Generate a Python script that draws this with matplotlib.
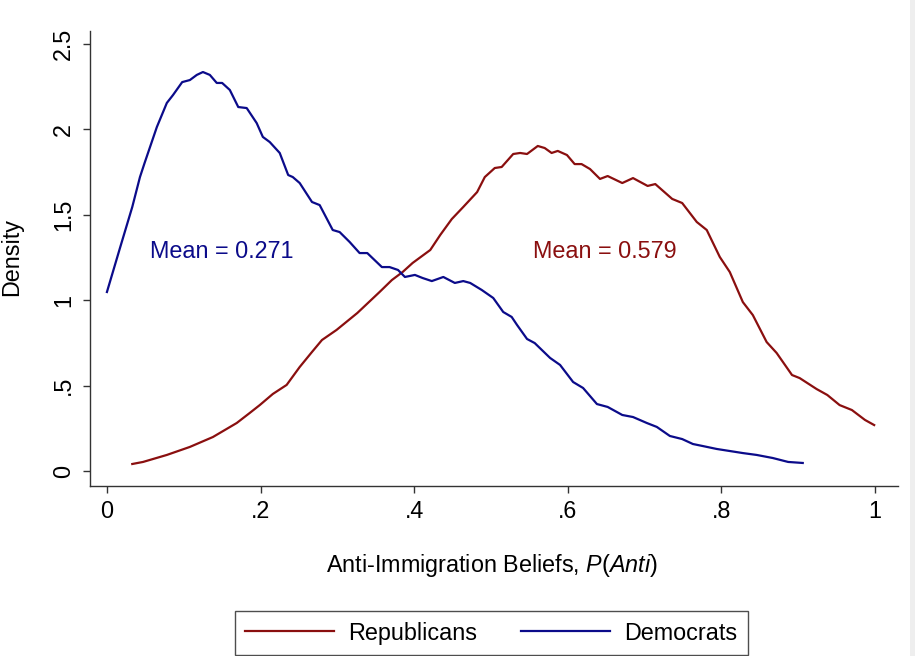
import numpy as np
import matplotlib.pyplot as plt
from matplotlib.patches import Rectangle

plt.rcParams['font.family'] = ['Liberation Sans', 'DejaVu Sans']
plt.rcParams['mathtext.fontset'] = 'custom'
plt.rcParams['mathtext.rm'] = 'Liberation Sans'
plt.rcParams['mathtext.it'] = 'Liberation Sans:italic'

# Democrats density
dem_x = [0.000, 0.017, 0.033, 0.043, 0.049, 0.065, 0.078, 0.086, 0.098, 0.108,
         0.117, 0.125, 0.134, 0.143, 0.150, 0.160, 0.171, 0.182, 0.195, 0.203,
         0.212, 0.225, 0.236, 0.242, 0.251, 0.267, 0.277, 0.294, 0.303, 0.316,
         0.329, 0.339, 0.358, 0.368, 0.379, 0.388, 0.401, 0.411, 0.423, 0.438,
         0.453, 0.464, 0.473, 0.488, 0.503, 0.516, 0.527, 0.534, 0.547, 0.557,
         0.577, 0.590, 0.607, 0.620, 0.638, 0.652, 0.671, 0.685, 0.703, 0.716,
         0.733, 0.749, 0.763, 0.776, 0.794, 0.811, 0.828, 0.846, 0.867, 0.887,
         0.906]
dem_y = [1.048, 1.306, 1.546, 1.721, 1.803, 2.014, 2.155, 2.201, 2.277, 2.289,
         2.319, 2.336, 2.319, 2.272, 2.272, 2.231, 2.131, 2.125, 2.037, 1.956,
         1.926, 1.862, 1.733, 1.721, 1.686, 1.575, 1.557, 1.411, 1.399, 1.341,
         1.276, 1.276, 1.194, 1.194, 1.177, 1.136, 1.148, 1.130, 1.112, 1.136,
         1.101, 1.112, 1.101, 1.060, 1.013, 0.931, 0.902, 0.855, 0.773, 0.749,
         0.662, 0.621, 0.521, 0.486, 0.392, 0.375, 0.328, 0.316, 0.281, 0.258,
         0.205, 0.187, 0.158, 0.146, 0.129, 0.117, 0.105, 0.094, 0.076, 0.053,
         0.047]

# Republicans density
rep_x = [0.033, 0.047, 0.078, 0.108, 0.138, 0.169, 0.186, 0.199, 0.216, 0.234,
         0.251, 0.267, 0.280, 0.299, 0.326, 0.355, 0.371, 0.385, 0.398, 0.421,
         0.434, 0.449, 0.464, 0.482, 0.492, 0.505, 0.514, 0.529, 0.538, 0.547,
         0.561, 0.570, 0.579, 0.587, 0.599, 0.609, 0.618, 0.629, 0.642, 0.652,
         0.671, 0.685, 0.704, 0.714, 0.736, 0.749, 0.768, 0.781, 0.798, 0.811,
         0.828, 0.841, 0.859, 0.872, 0.892, 0.902, 0.924, 0.938, 0.954, 0.970,
         0.987, 0.999]
rep_y = [0.041, 0.053, 0.094, 0.141, 0.199, 0.281, 0.340, 0.386, 0.451, 0.504,
         0.609, 0.697, 0.767, 0.826, 0.925, 1.048, 1.118, 1.165, 1.218, 1.294,
         1.382, 1.475, 1.546, 1.633, 1.721, 1.774, 1.780, 1.856, 1.862, 1.856,
         1.903, 1.891, 1.862, 1.874, 1.850, 1.797, 1.797, 1.768, 1.710, 1.727,
         1.686, 1.715, 1.669, 1.680, 1.593, 1.569, 1.458, 1.411, 1.253, 1.165,
         0.989, 0.913, 0.755, 0.691, 0.562, 0.544, 0.480, 0.445, 0.386, 0.357,
         0.299, 0.269]

xticks = [0, 0.2, 0.4, 0.6, 0.8, 1.0]
xtick_labels = ['0', '.2', '.4', '.6', '.8', '1']
yticks = [0, 0.5, 1.0, 1.5, 2.0, 2.5]
ytick_labels = ['0', '.5', '1', '1.5', '2', '2.5']

navy = '#0b0b8a'
maroon = '#8a0f0f'
fs = 16.8

fig = plt.figure(figsize=(9.15, 6.56), dpi=100)
ax = fig.add_axes([0.0984, 0.2591, 0.8830, 0.6936])

ax.plot(rep_x, rep_y, color=maroon, lw=1.6, label='Republicans', solid_joinstyle='round')
ax.plot(dem_x, dem_y, color=navy, lw=1.6, label='Democrats', solid_joinstyle='round')

ax.text(0.056, 1.288, 'Mean = 0.271', color=navy, fontsize=fs, va='center', ha='left')
ax.text(0.555, 1.288, 'Mean = 0.579', color=maroon, fontsize=fs, va='center', ha='left')

ax.set_xlim(-0.022, 1.030)
ax.set_ylim(-0.088, 2.576)
ax.set_xticks(xticks)
ax.set_xticklabels(xtick_labels)
ax.set_yticks(yticks)
ax.set_yticklabels(ytick_labels, rotation=90, va='center')

for s in ['top', 'right']:
    ax.spines[s].set_visible(False)
for s in ['left', 'bottom']:
    ax.spines[s].set_color('#333333')
    ax.spines[s].set_linewidth(1.0)
ax.tick_params(direction='out', length=5, width=1.0, color='#333333', labelsize=fs)
ax.tick_params(axis='x', pad=5)
ax.tick_params(axis='y', pad=6)

ax.set_xlabel('Anti-Immigration Beliefs, $\\mathit{P(Anti)}$', fontsize=fs)
ax.xaxis.set_label_coords(0.497, -0.145)
ax.set_ylabel('Density', fontsize=fs)
ax.yaxis.set_label_coords(-0.083, 0.503)

leg = fig.legend(loc='center', bbox_to_anchor=(0.537, 0.035), ncol=2, fontsize=fs,
                 frameon=True, fancybox=False, handlelength=3.8, handletextpad=0.6,
                 columnspacing=1.9, borderpad=0.45, borderaxespad=0)
leg.get_frame().set_edgecolor('#222222')
leg.get_frame().set_linewidth(1.0)

fig.patches.append(Rectangle((0.9945, 0), 0.0055, 1, transform=fig.transFigure,
                             facecolor='#eeeeee', edgecolor='none'))

fig.savefig('out.png', dpi=100)
